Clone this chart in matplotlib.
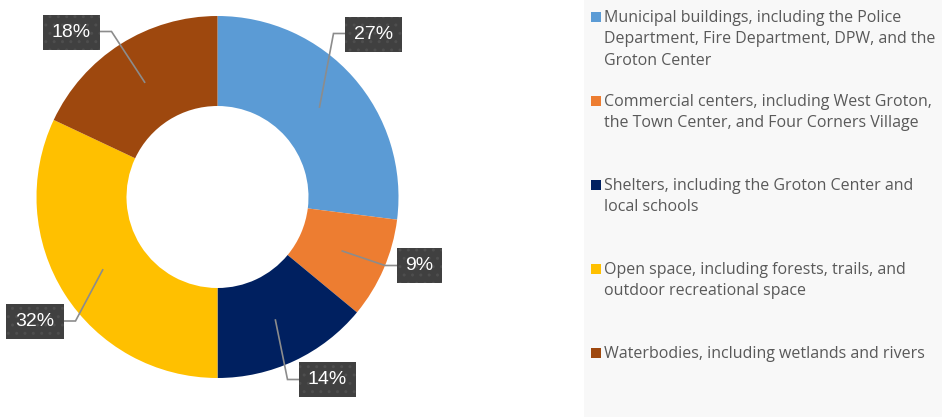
import numpy as np
import matplotlib.pyplot as plt
from matplotlib.patches import Rectangle

plt.rcParams['font.family'] = ['Liberation Sans', 'DejaVu Sans']
plt.rcParams['hatch.linewidth'] = 1.0

# Land-use categories and their shares (%)
categories = [
    "Municipal buildings, including the Police\nDepartment, Fire Department, DPW, and the\nGroton Center",
    "Commercial centers, including West Groton,\nthe Town Center, and Four Corners Village",
    "Shelters, including the Groton Center and\nlocal schools",
    "Open space, including forests, trails, and\noutdoor recreational space",
    "Waterbodies, including wetlands and rivers",
]
shares = [27, 9, 14, 32, 18]
value_labels = ["27%", "9%", "14%", "32%", "18%"]
colors = ["#5B9BD5", "#ED7D31", "#002060", "#FFC000", "#9E480E"]

W, H = 942, 417
fig = plt.figure(figsize=(W / 100, H / 100), dpi=100)
fig.patch.set_facecolor("white")
ax = fig.add_axes([0, 0, 1, 1])


def py(y):
    """Convert a top-down pixel row to the axes' bottom-up coordinate."""
    return H - y


# Legend panel background
ax.add_patch(Rectangle((584, 0), W - 584, H, facecolor="#f8f8f8", edgecolor="none", zorder=0))

# Donut
cx, cy = 217.5, py(197)
R_out, R_in = 181, 91
ax.pie(shares, colors=colors, startangle=90, counterclock=False,
       center=(cx, cy), radius=R_out,
       wedgeprops=dict(width=R_out - R_in, linewidth=0), frame=True)
ax.set_xlim(0, W)
ax.set_ylim(0, H)
ax.set_aspect("equal")
ax.axis("off")

# Value label boxes (left, top, width, height in px) and leader elbows
boxes = [
    (345, 17, 57, 35),
    (397, 248, 45, 35),
    (299, 362, 57, 35),
    (6, 304, 58, 35),
    (43, 15, 57, 35),
]
elbows = [
    ((345, 33.5), (333.5, 33.5)),
    ((397, 265.5), (385, 265.5)),
    ((299, 379.5), (287.5, 379.5)),
    ((64, 321), (75.5, 321)),
    ((100, 31.5), (111.5, 31.5)),
]

cum = np.cumsum([0] + shares[:-1])
r_mid = (R_out + R_in) / 2
for i, (s, c0) in enumerate(zip(shares, cum)):
    frac = (c0 + s / 2) / sum(shares)
    ang = np.deg2rad(90 - 360 * frac)
    ax_x = cx + r_mid * np.cos(ang)
    ax_y = cy + r_mid * np.sin(ang)
    (x0, y0), (x1, y1) = elbows[i]
    ax.plot([x0, x1, ax_x], [py(y0), py(y1), ax_y], color="#8c8c8c",
            lw=1.2, solid_joinstyle="miter", zorder=3)
    bx, by, bw, bh = boxes[i]
    ax.add_patch(Rectangle((bx, py(by + bh)), bw, bh, facecolor="#404040",
                           edgecolor="#4e4e4e", hatch="..", linewidth=0, zorder=4))
    ax.text(bx + bw / 2, py(by + bh / 2) + 0.5, value_labels[i], color="white",
            fontsize=14, ha="center", va="center", zorder=5)

# Legend
entry_top = [17, 101, 185, 269, 353]
for i, label in enumerate(categories):
    t = entry_top[i]
    ax.add_patch(Rectangle((591, py(t + 5)), 10, 10, facecolor=colors[i],
                           edgecolor="none", zorder=2))
    ax.text(604, py(t - 7), label, color="#595959", fontsize=11.5,
            family=["Open Sans", "DejaVu Sans"],
            ha="left", va="top", linespacing=1.45, zorder=2)

fig.savefig("out.png", dpi=100, facecolor=fig.get_facecolor())
